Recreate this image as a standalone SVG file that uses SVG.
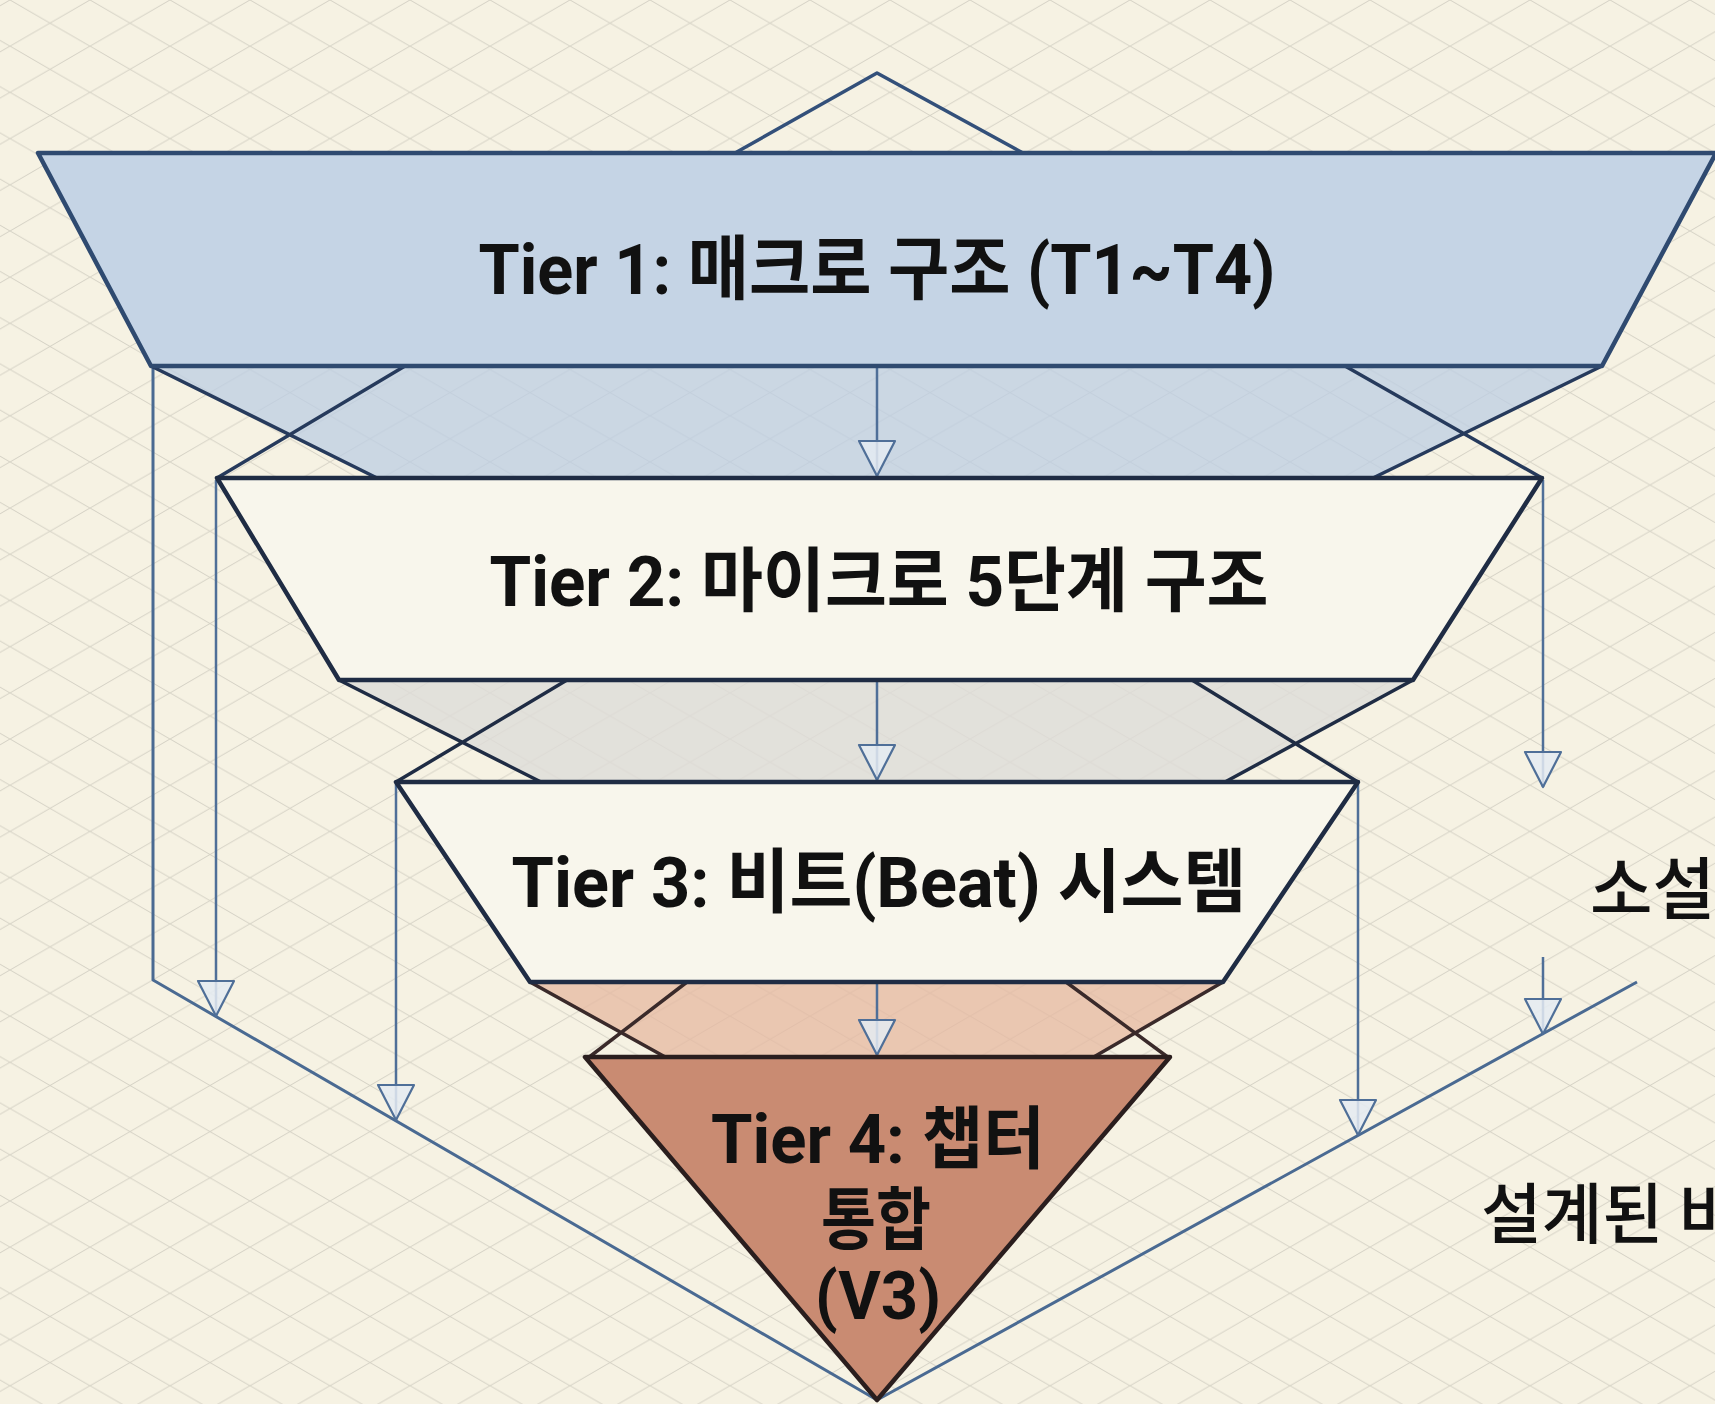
<svg xmlns="http://www.w3.org/2000/svg" width="1715" height="1404" viewBox="0 0 1715 1404">
  <style>
    .tierline { stroke: #1f2c44; stroke-width: 4.5; stroke-linejoin: round; }
    .xline { fill: none; stroke: #1f2c44; stroke-width: 3.5; stroke-linecap: round; }
    .frame { fill: none; stroke: #4a6a92; stroke-width: 3; stroke-linejoin: round; }
    .conn { fill: none; stroke: #4f6f98; stroke-width: 2.5; marker-end: url(#openhead); }
    .lbl { font-family: Roboto, "Noto Sans CJK KR", sans-serif; font-weight: 700; fill: #111111; text-anchor: middle; }
    .side { font-family: "Noto Sans CJK KR", Roboto, sans-serif; font-weight: 500; fill: #111111; }
  </style>
  <defs>
    <pattern id="grid" patternUnits="userSpaceOnUse" width="80" height="46.19" x="10" y="0">
      <path d="M0,0 L80,46.19 M0,46.19 L80,0" stroke="#cfccc0" stroke-width="1" fill="none"/>
    </pattern>
    <marker id="openhead" markerUnits="userSpaceOnUse" viewBox="-2 -21 40 42" refX="35" refY="0" markerWidth="40" markerHeight="42" orient="auto">
      <path d="M0,-18 L35,0 L0,18 Z" fill="#e4ebf2" fill-opacity="0.85" stroke="#4f6f98" stroke-width="2.2" stroke-linejoin="round"/>
    </marker>
  </defs>

  <rect x="0" y="0" width="1715" height="1404" fill="#f6f2e3"/>
  <rect x="0" y="0" width="1715" height="1404" fill="url(#grid)" opacity="0.85"/>

  <g id="outer-frame">
    <polyline class="frame" points="153,366 153,980 877,1400 1637,982"/>
    <polyline class="frame" points="735,153 877,73 1023,153" style="stroke:#33507a;stroke-width:3.5"/>
  </g>

  <g id="transition-1">
    <polygon points="151,366 1602,366 1373,478 377,478" fill="#bccee3" fill-opacity="0.75"/>
    <path class="xline" d="M151,366 L377,478 M405,366 L217,478 M1345,366 L1542,478 M1602,366 L1373,478" style="stroke:#263a5c"/>
  </g>
  <g id="transition-2">
    <polygon points="339,680 1413,680 1225,782 541,782" fill="#dddcd8" fill-opacity="0.8"/>
    <path class="xline" d="M339,680 L541,782 M567,680 L396,782 M1192,680 L1358,782 M1413,680 L1225,782"/>
  </g>
  <g id="transition-3">
    <polygon points="530,982 1223,982 1092,1058 667,1058" fill="#e6b8a0" fill-opacity="0.75"/>
    <path class="xline" d="M530,982 L667,1058 M687,982 L588,1058 M1066,982 L1169,1058 M1223,982 L1092,1058" style="stroke:#3a2a2a"/>
  </g>

  <g id="connectors">
    <line class="conn" x1="877" y1="368" x2="877" y2="476"/>
    <line class="conn" x1="877" y1="682" x2="877" y2="780"/>
    <line class="conn" x1="877" y1="984" x2="877" y2="1055"/>
    <line class="conn" x1="216" y1="480" x2="216" y2="1016"/>
    <line class="conn" x1="396" y1="784" x2="396" y2="1120"/>
    <line class="conn" x1="1543" y1="480" x2="1543" y2="787"/>
    <line class="conn" x1="1543" y1="957" x2="1543" y2="1034"/>
    <line class="conn" x1="1358" y1="784" x2="1358" y2="1135"/>
  </g>

  <g id="tier1">
    <polygon class="tierline" points="38,153 1716,153 1602,366 151,366" fill="#c5d4e5" style="stroke:#2f4a70"/>
    <text class="lbl" x="877" y="294" font-size="70" textLength="797" lengthAdjust="spacingAndGlyphs">Tier 1: 매크로 구조 (T1~T4)</text>
  </g>

  <g id="tier2">
    <polygon class="tierline" points="217,478 1542,478 1413,680 339,680" fill="#f8f6ec"/>
    <text class="lbl" x="879" y="606" font-size="70" textLength="779" lengthAdjust="spacingAndGlyphs">Tier 2: 마이크로 5단계 구조</text>
  </g>

  <g id="tier3">
    <polygon class="tierline" points="396,782 1358,782 1223,982 530,982" fill="#f8f6ec"/>
    <text class="lbl" x="879" y="907" font-size="70" textLength="735" lengthAdjust="spacingAndGlyphs">Tier 3: 비트(Beat) 시스템</text>
  </g>

  <g id="tier4">
    <polygon class="tierline" points="585,1057 1170,1057 877,1400" fill="#c98b72" style="stroke:#2a1e1e"/>
    <text class="lbl" x="878" y="1163" font-size="68" textLength="334" lengthAdjust="spacingAndGlyphs">Tier 4: 챕터</text>
    <text class="lbl" x="876" y="1244" font-size="68" textLength="110" lengthAdjust="spacingAndGlyphs">통합</text>
    <text class="lbl" x="878" y="1319" font-size="67" textLength="126" lengthAdjust="spacingAndGlyphs">(V3)</text>
  </g>

  <g id="side-labels">
    <text class="side" x="1590" y="914" font-size="68">소설</text>
    <text class="side" x="1481" y="1238" font-size="66">설계된 비</text>
  </g>
</svg>
